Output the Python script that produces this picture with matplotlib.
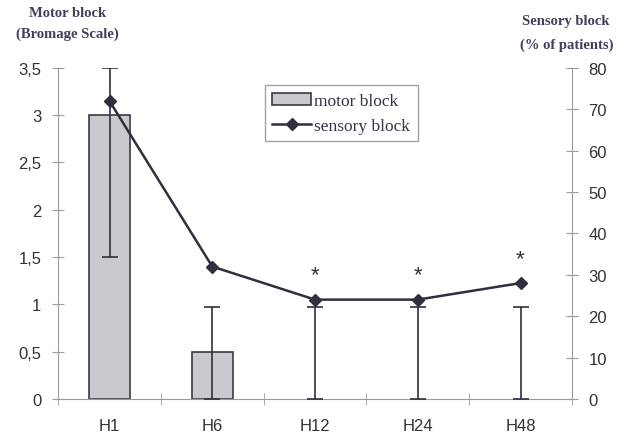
import matplotlib.pyplot as plt
import numpy as np

# time points and measured values
labels = ['H1', 'H6', 'H12', 'H24', 'H48']
motor = [3, 0.5, 0, 0, 0]
motor_err_low = [1.5, 0.5, 0, 0, 0]
motor_err_high = [0.5, 0.47, 0.97, 0.97, 0.97]
sensory = [72, 32, 24, 24, 28]
signif = [False, False, True, True, True]

ink = '#2f2f3f'
axis_col = '#9a9aa0'

fig = plt.figure(figsize=(6.25, 4.39), dpi=100)
ax = fig.add_axes([0.093, 0.089, 0.822, 0.754])
x = np.arange(len(labels))

bars = ax.bar(x, motor, width=0.4, color='#c9c9ce', edgecolor='#3a3a44', linewidth=1.2,
              label='motor block', zorder=2)
# empty bars get no outline
for b, v in zip(bars, motor):
    if v == 0:
        b.set_linewidth(0)
ax.errorbar(x, motor, yerr=[motor_err_low, motor_err_high], fmt='none',
            ecolor=ink, elinewidth=1.2, capsize=6, capthick=1.2, zorder=3)

ax.set_xlim(-0.5, len(labels) - 0.5)
ax.set_ylim(0, 3.5)
ax.set_yticks(np.arange(0, 3.51, 0.5))
ax.set_yticklabels(['0', '0,5', '1', '1,5', '2', '2,5', '3', '3,5'])
ax.set_xticks(x)
ax.set_xticklabels(labels)
ax.set_xticks(np.arange(-0.5, len(labels), 1), minor=True)
ax.tick_params(axis='x', which='major', length=0, pad=14)
ax.tick_params(axis='x', which='minor', direction='inout', length=8, color=axis_col)
ax.tick_params(axis='y', direction='inout', length=8, color=axis_col, pad=8)

ax2 = ax.twinx()
ax2.plot(x, sensory, color=ink, linewidth=1.8, marker='D', markersize=6,
         label='sensory block', zorder=4)
for xi, yi, s in zip(x, sensory, signif):
    if s:
        ax2.text(xi, yi + 6, '*', ha='center', va='center', fontsize=16,
                 color=ink, family='Liberation Sans')
ax2.set_ylim(0, 80)
ax2.set_yticks(range(0, 81, 10))
ax2.tick_params(axis='y', direction='inout', length=8, color=axis_col, pad=8)

for a in (ax, ax2):
    a.spines['top'].set_visible(False)
    for s in ('left', 'right', 'bottom'):
        a.spines[s].set_color(axis_col)
    for t in a.get_xticklabels() + a.get_yticklabels():
        t.set_family('Liberation Sans')
        t.set_fontsize(12)
        t.set_color('#333333')

ax.spines['right'].set_visible(False)
ax2.spines['left'].set_visible(False)
ax2.spines['bottom'].set_visible(False)

title_kw = dict(family='Liberation Serif', weight='bold', fontsize=10.5,
                color='#40405a', ha='center', va='center')
fig.text(0.108, 0.970, 'Motor block', **title_kw)
fig.text(0.108, 0.922, '(Bromage Scale)', **title_kw)
fig.text(0.906, 0.952, 'Sensory block', **title_kw)
fig.text(0.906, 0.898, '(% of patients)', **title_kw)

h1, l1 = ax.get_legend_handles_labels()
h2, l2 = ax2.get_legend_handles_labels()
leg = ax2.legend(h1 + h2, l1 + l2, loc='upper left', bbox_to_anchor=(0.385, 0.975),
                 fancybox=False, edgecolor='#8a8a90', handlelength=2.2,
                 handletextpad=0.2, borderpad=0.45, labelspacing=0.5,
                 prop={'family': 'Liberation Serif', 'size': 12.5})
for t in leg.get_texts():
    t.set_color('#333344')

fig.savefig('out.png', dpi=100)
